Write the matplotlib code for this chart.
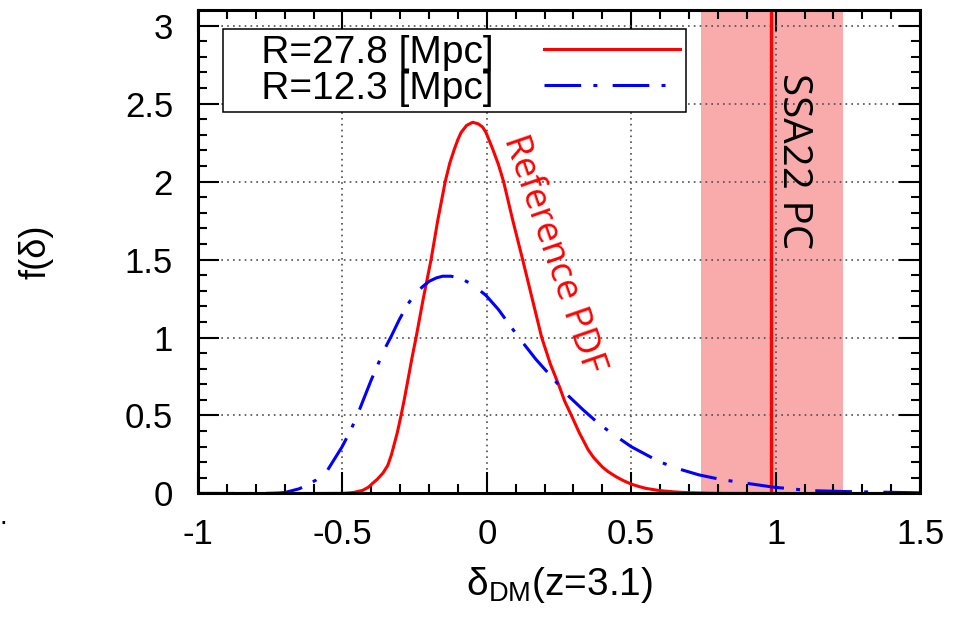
import numpy as np
import matplotlib
matplotlib.use("Agg")
import matplotlib.pyplot as plt

plt.rcParams["font.family"] = ["Liberation Sans", "DejaVu Sans"]
plt.rcParams["mathtext.default"] = "regular"

# curve values
x_red = [-1.0, -0.6, -0.5, -0.48, -0.46, -0.43, -0.41, -0.395, -0.38, -0.36,
         -0.343, -0.33, -0.31, -0.297, -0.285, -0.27, -0.258, -0.245, -0.22,
         -0.193, -0.17, -0.144, -0.128, -0.112, -0.1, -0.089, -0.07, -0.049,
         -0.03, -0.015, -0.003, 0.02, 0.04, 0.058, 0.09, 0.124, 0.157, 0.19,
         0.22, 0.251, 0.27, 0.293, 0.32, 0.351, 0.37, 0.40, 0.42, 0.447, 0.47,
         0.50, 0.528, 0.55, 0.6, 0.65, 0.7, 0.8, 1.0, 1.5]
y_red = [0.0, 0.0, 0.001, 0.003, 0.007, 0.02, 0.04, 0.066, 0.09, 0.13,
         0.18, 0.25, 0.39, 0.5, 0.61, 0.76, 0.88, 1.0, 1.25,
         1.5, 1.75, 2.0, 2.12, 2.21, 2.27, 2.315, 2.36, 2.38,
         2.37, 2.35, 2.315, 2.21, 2.11, 2.0, 1.75, 1.5, 1.25, 1.0,
         0.83, 0.686, 0.59, 0.5, 0.39, 0.28, 0.23, 0.17, 0.14, 0.108, 0.085,
         0.06, 0.044, 0.033, 0.018, 0.01, 0.005, 0.001, 0.0, 0.0]

x_blue = [-1.0, -0.8, -0.75, -0.72, -0.70, -0.65, -0.62, -0.591, -0.551,
          -0.501, -0.47, -0.441, -0.40, -0.355, -0.331, -0.303, -0.275,
          -0.245, -0.22, -0.199, -0.175, -0.153, -0.125, -0.095, -0.05,
          -0.003, 0.04, 0.078, 0.112, 0.17, 0.228, 0.28, 0.333, 0.38, 0.424,
          0.5, 0.597, 0.66, 0.735, 0.81, 0.897, 0.995, 1.122, 1.25, 1.381, 1.5]
y_blue = [0.0, 0.0, 0.001, 0.003, 0.006, 0.03, 0.055, 0.087, 0.151,
          0.30, 0.41, 0.537, 0.729, 0.922, 1.008, 1.115, 1.21,
          1.287, 1.33, 1.361, 1.382, 1.393, 1.393, 1.383, 1.34,
          1.27, 1.18, 1.083, 0.997, 0.86, 0.74, 0.63, 0.537, 0.46, 0.397,
          0.30, 0.204, 0.16, 0.119, 0.09, 0.066, 0.04, 0.018, 0.012, 0.008, 0.004]

labels = ["   R=27.8 [Mpc]", "   R=12.3 [Mpc]"]
ssa22_x = 0.985
ssa22_lo, ssa22_hi = 0.74, 1.235

fig = plt.figure(figsize=(9.65, 6.23), dpi=100)
ax = fig.add_axes([0.2052, 0.2079, 0.7482, 0.7761])

ax.axvspan(ssa22_lo, ssa22_hi, color="#F9AAAA", lw=0, zorder=0.2)
ax.axvline(ssa22_x, color="red", lw=2.4, zorder=1.5)

ax.plot(x_red, y_red, color="red", lw=2.2, label=labels[0], zorder=2)
ax.plot(x_blue, y_blue, color="blue", lw=2.2, ls=(0, (12, 4, 1.3, 5)),
        label=labels[1], zorder=2)

ax.set_xlim(-1, 1.5)
ax.set_ylim(0, 3.1)
ax.set_xticks(np.arange(-1, 1.51, 0.5))
ax.set_xticklabels(["-1", "-0.5", "0", "0.5", "1", "1.5"])
ax.set_yticks(np.arange(0, 3.01, 0.5))
ax.set_yticklabels(["0", "0.5", "1", "1.5", "2", "2.5", "3"])
ax.set_xticks(np.arange(-1, 1.51, 0.1), minor=True)
ax.set_yticks(np.arange(0, 3.09, 0.1), minor=True)

ax.set_axisbelow(True)
ax.grid(True, which="major", color="0.3", lw=1.2, ls=(0, (1, 2.5)))
ax.tick_params(which="both", direction="in", top=True, right=True,
               width=1.5, labelsize=25)
ax.tick_params(which="major", length=15, pad=18)
ax.tick_params(which="minor", length=6.5)
for s in ax.spines.values():
    s.set_linewidth(2.2)

ax.set_xlabel(r"δ$_{DM}$(z=3.1)", fontsize=28)
ax.xaxis.set_label_coords(0.5, -0.148)
ax.set_ylabel("f(δ)", fontsize=26)
ax.yaxis.set_label_coords(-0.2, 0.5)

leg = ax.legend(loc="upper left", bbox_to_anchor=(0.0346, 0.961),
                borderaxespad=0, fontsize=28, markerfirst=False,
                labelspacing=0.0, borderpad=0.15, handlelength=3.5,
                handletextpad=1.3, fancybox=False, framealpha=1,
                edgecolor="black")
leg.get_frame().set_linewidth(1.1)

ax.text(1.06, 2.13, "SSA22 PC", rotation=-90, fontsize=29,
        family="Open Sans", ha="center", va="center", color="black")
ax.text(0.228, 1.533, "Reference PDF", rotation=-71, fontsize=26.5,
        family="Open Sans", ha="center", va="center", color="red",
        rotation_mode="anchor")

fig.text(0.0, 0.159, ".", fontsize=20, ha="left", va="baseline")

fig.savefig("out.png", dpi=100)
